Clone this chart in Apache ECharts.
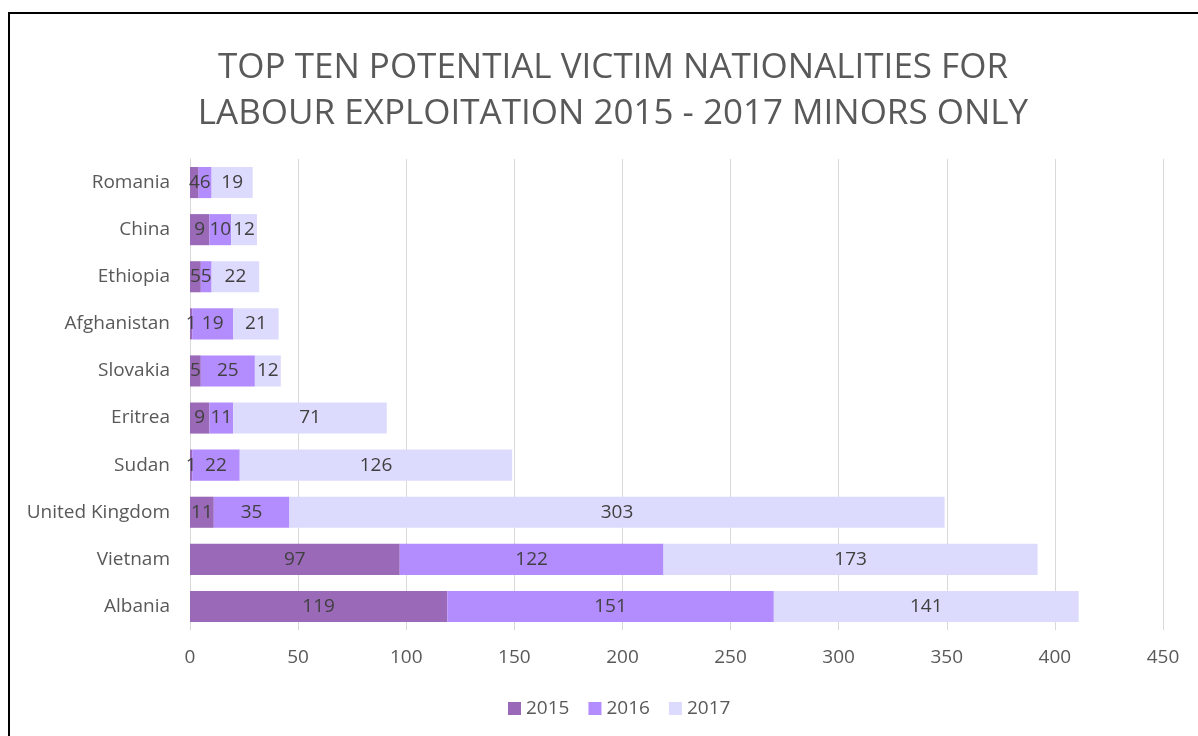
<!DOCTYPE html>
<html>
<head>
<meta charset="utf-8">
<script src="https://cdn.jsdelivr.net/npm/echarts@6/dist/echarts.min.js"></script>
<style>
  html, body { margin: 0; padding: 0; background: #fff; }
  #chart { width: 1198px; height: 736px; }
</style>
</head>
<body>
<div id="chart"></div>
<script>
// data
const countries = ['Romania', 'China', 'Ethiopia', 'Afghanistan', 'Slovakia',
  'Eritrea', 'Sudan', 'United Kingdom', 'Vietnam', 'Albania'];
const years = ['2015', '2016', '2017'];
const v2015 = [4, 9, 5, 1, 5, 9, 1, 11, 97, 119];
const v2016 = [6, 10, 5, 19, 25, 11, 22, 35, 122, 151];
const v2017 = [19, 12, 22, 21, 12, 71, 126, 303, 173, 141];
const colors = ['#9a69b8', '#b38cfd', '#dcdbfd'];

const chart = echarts.init(document.getElementById('chart'));

function barSeries(name, data, color) {
  return {
    name: name,
    type: 'bar',
    stack: 'total',
    barCategoryGap: '34%',
    data: data,
    itemStyle: { color: color },
    label: {
      show: true,
      position: 'inside',
      color: '#404040',
      fontFamily: 'Open Sans',
      fontSize: 19
    },
    emphasis: { disabled: true }
  };
}

const option = {
  backgroundColor: '#fff',
  animation: false,
  color: colors,
  title: {
    text: 'TOP TEN POTENTIAL VICTIM NATIONALITIES FOR\nLABOUR EXPLOITATION 2015 - 2017 MINORS ONLY',
    left: 608,
    top: 40,
    textAlign: 'center',
    textStyle: {
      fontFamily: 'Open Sans',
      fontWeight: 'normal',
      fontSize: 35,
      lineHeight: 46,
      color: '#595959'
    }
  },
  grid: { left: 190, right: 35, top: 159, bottom: 106 },
  legend: {
    bottom: 13,
    left: 503,
    itemWidth: 13,
    itemHeight: 13,
    itemGap: 19,
    icon: 'rect',
    textStyle: { fontFamily: 'Open Sans', fontSize: 19, color: '#595959' },
    data: years
  },
  xAxis: {
    type: 'value',
    min: 0,
    max: 450,
    interval: 50,
    axisLine: { show: false },
    axisTick: { show: false },
    axisLabel: { fontFamily: 'Open Sans', fontSize: 19, color: '#595959', margin: 18 },
    splitLine: { lineStyle: { color: '#d9d9d9', width: 1 } }
  },
  yAxis: {
    type: 'category',
    data: countries,
    inverse: true,
    axisLine: { show: true, lineStyle: { color: '#d9d9d9' } },
    axisTick: { show: false },
    axisLabel: { fontFamily: 'Open Sans', fontSize: 19, color: '#595959', margin: 20 }
  },
  graphic: [{
    type: 'rect',
    shape: { x: 9, y: 13, width: 1200, height: 740 },
    style: { fill: 'none', stroke: '#000', lineWidth: 2 },
    silent: true
  }],
  series: [
    barSeries(years[0], v2015, colors[0]),
    barSeries(years[1], v2016, colors[1]),
    barSeries(years[2], v2017, colors[2])
  ]
};

chart.setOption(option);
</script>
</body>
</html>
